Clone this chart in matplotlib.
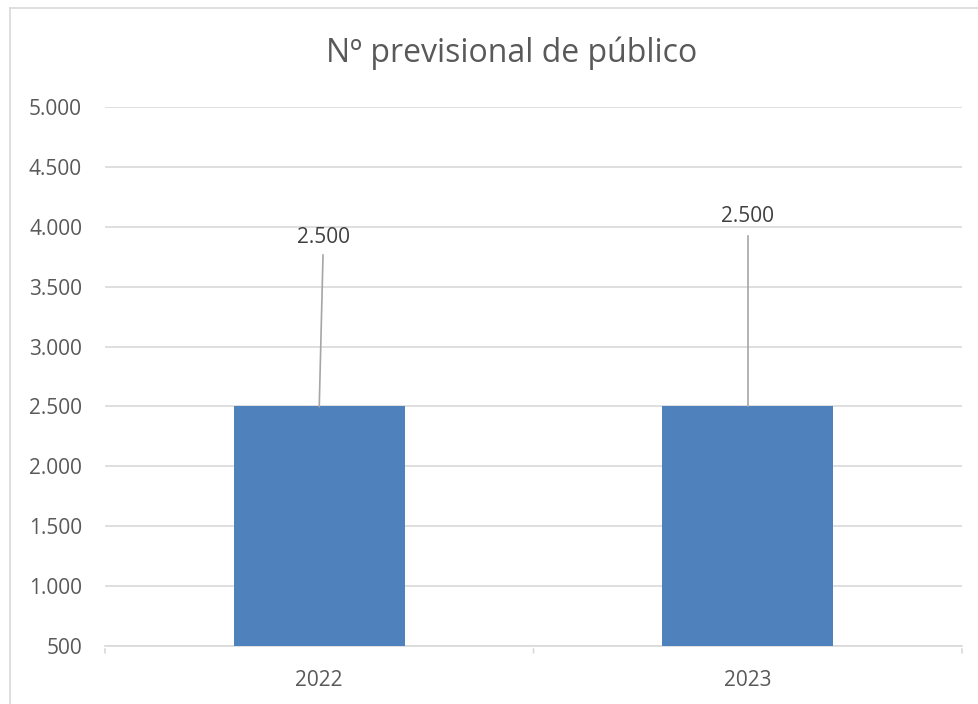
import matplotlib
matplotlib.use("Agg")
import matplotlib.pyplot as plt
from matplotlib.lines import Line2D

categories = ["2022", "2023"]
values = [2500, 2500]
label_texts = ["2.500", "2.500"]
y_ticks = [500, 1000, 1500, 2000, 2500, 3000, 3500, 4000, 4500, 5000]
y_tick_labels = ["500", "1.000", "1.500", "2.000", "2.500", "3.000", "3.500", "4.000", "4.500", "5.000"]
# data label placement: (x offset in category units, leader line end y, text centre y)
label_pos = [(0.011, 3764, 3914), (0.0, 3923, 4082)]
title = "Nº previsional de público"

W, H = 979, 704
fig = plt.figure(figsize=(W / 100, H / 100), dpi=100)
plt.rcParams['font.family'] = ['Open Sans', 'DejaVu Sans']
txt_color = "#595959"

# chart border (top and left visible)
fig.add_artist(Line2D([10 / W, 10 / W], [0, 1 - 8 / H], transform=fig.transFigure, color="#D9D9D9", lw=1.2))
fig.add_artist(Line2D([10 / W, 1], [1 - 8 / H, 1 - 8 / H], transform=fig.transFigure, color="#D9D9D9", lw=1.2))

left, right, top, bottom = 105, 962, 107, 646
ax = fig.add_axes([left / W, 1 - bottom / H, (right - left) / W, (bottom - top) / H])
x = list(range(len(categories)))
ax.bar(x, [v - 500 for v in values], bottom=500, width=0.40, color="#4F81BD", zorder=3)
ax.set_xlim(-0.5, len(categories) - 0.5)
ax.set_ylim(500, 5000)
ax.set_yticks(y_ticks)
ax.set_yticklabels(y_tick_labels)
ax.set_xticks(x)
ax.set_xticklabels(categories)
ax.tick_params(axis="y", length=0, pad=16.5, labelsize=15, labelcolor=txt_color)
ax.tick_params(axis="x", length=0, pad=17, labelsize=15, labelcolor=txt_color)
for sp in ["left", "right", "top"]:
    ax.spines[sp].set_visible(False)
ax.spines["bottom"].set_color("#D9D9D9")
ax.spines["bottom"].set_linewidth(1.2)
ax.grid(axis="y", color="#D9D9D9", lw=1.2, zorder=0)
ax.set_axisbelow(True)
# category separator ticks
for b in [-0.5, 0.5, 1.5]:
    ax.annotate("", xy=(b, 0), xycoords=("data", "axes fraction"), xytext=(0, -7), textcoords="offset points",
                arrowprops=dict(arrowstyle="-", color="#D9D9D9", lw=1.2), annotation_clip=False)

for xi, v, t, (dx, ly, ty) in zip(x, values, label_texts, label_pos):
    ax.plot([xi, xi + dx * 0.8], [v, ly], color="#A6A6A6", lw=1.2, zorder=4)
    ax.text(xi + dx, ty, t, ha="center", va="center", fontsize=15, color="#404040", zorder=5)

fig.text(512 / W, 1 - 53 / H, title, ha="center", va="center", fontsize=23, color=txt_color)

fig.savefig("out.png", dpi=100, facecolor="white")
